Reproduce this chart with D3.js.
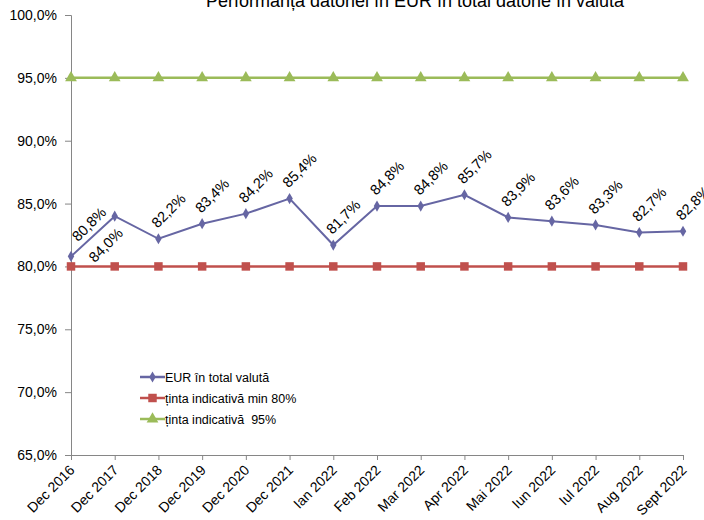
<!DOCTYPE html>
<html>
<head>
<meta charset="utf-8">
<script src="https://cdn.jsdelivr.net/npm/d3@7"></script>
<style>
  html, body { margin: 0; padding: 0; background: #fff; }
  svg { display: block; font-family: "Liberation Sans", Arial, sans-serif; }
</style>
</head>
<body>
<svg id="chart" width="704" height="520"></svg>
<script>
const categories = ["Dec 2016","Dec 2017","Dec 2018","Dec 2019","Dec 2020","Dec 2021","Ian 2022","Feb 2022","Mar 2022","Apr 2022","Mai 2022","Iun 2022","Iul 2022","Aug 2022","Sept 2022"];
const eurShare = [80.8, 84.0, 82.2, 83.4, 84.2, 85.4, 81.7, 84.8, 84.8, 85.7, 83.9, 83.6, 83.3, 82.7, 82.8];
const targetMin = [80,80,80,80,80,80,80,80,80,80,80,80,80,80,80];
const target95 = [95,95,95,95,95,95,95,95,95,95,95,95,95,95,95];
const yTicks = [65, 70, 75, 80, 85, 90, 95, 100];
const seriesNames = ["EUR în total valută", "ținta indicativă min 80%", "ținta indicativă  95%"];
const title = "Performanța datoriei în EUR în total datorie în valută";

const svg = d3.select("#chart");
const mLeft = 71, mRight = 683, mTop = 15, mBottom = 455;

const x = d3.scalePoint().domain(categories).range([mLeft, mRight]);
const y = d3.scaleLinear().domain([65, 100]).range([mBottom, mTop]);

const fmt = v => d3.format(".1f")(v).replace(".", ",") + "%";

// title (cropped at top, as in the reference)
svg.append("text").attr("x", 415).attr("y", 7).attr("text-anchor", "middle")
  .attr("font-size", 18).attr("fill", "#000").text(title);

// axes
const yAxis = d3.axisLeft(y).tickValues(yTicks).tickSize(6).tickFormat(fmt);
const gy = svg.append("g").attr("transform", `translate(${mLeft},0)`).call(yAxis);
gy.select(".domain").attr("stroke", "#868686");
gy.selectAll(".tick line").attr("stroke", "#868686");
gy.selectAll(".tick text").attr("font-size", 14).attr("fill", "#000")
  .attr("font-family", "Liberation Sans, Arial, sans-serif").attr("x", -14);

const xAxis = d3.axisBottom(x).tickSize(5).tickSizeOuter(0);
const gx = svg.append("g").attr("transform", `translate(0,${mBottom})`).call(xAxis);
gx.select(".domain").attr("stroke", "#868686");
gx.selectAll(".tick line").attr("stroke", "#868686");
gx.selectAll(".tick text")
  .attr("font-size", 14).attr("fill", "#000")
  .attr("font-family", "Liberation Sans, Arial, sans-serif")
  .attr("text-anchor", "end")
  .attr("dy", null).attr("y", null)
  .attr("transform", "translate(4,16) rotate(-45)");

const colors = ["#6666A3", "#C0504D", "#9BBB59"];

function drawLine(vals, color, width) {
  svg.append("path")
    .datum(vals)
    .attr("fill", "none").attr("stroke", color).attr("stroke-width", width)
    .attr("d", d3.line().x((d, i) => x(categories[i])).y(d => y(d)));
}

drawLine(target95, colors[2], 2.5);
drawLine(targetMin, colors[1], 2.5);
drawLine(eurShare, colors[0], 2);

const sym = {
  diamond: d3.symbol().type(d3.symbolDiamond).size(36),
  square: d3.symbol().type(d3.symbolSquare).size(72),
  triangle: d3.symbol().type(d3.symbolTriangle).size(60)
};

function markers(vals, color, s) {
  svg.append("g").selectAll("path").data(vals).join("path")
    .attr("transform", (d, i) => `translate(${x(categories[i])},${y(d)})`)
    .attr("d", s).attr("fill", color);
}
markers(target95, colors[2], sym.triangle);
markers(targetMin, colors[1], sym.square);
markers(eurShare, colors[0], sym.diamond);

// data labels
svg.append("g").selectAll("text").data(eurShare).join("text")
  .attr("transform", (d, i) => {
    const px = x(categories[i]), py = y(d);
    if (i === 1) return `translate(${px - 20},${py + 47}) rotate(-45)`;
    if (i === 0) return `translate(${px + 7},${py - 14}) rotate(-45)`;
    return `translate(${px - 1},${py - 10}) rotate(-45)`;
  })
  .attr("font-size", 14.5).attr("fill", "#000").text(fmt);

// legend
const legend = svg.append("g");
const legendSyms = [sym.diamond, sym.square, sym.triangle];
seriesNames.forEach((name, i) => {
  const ly = 377 + i * 21;
  legend.append("line").attr("x1", 140).attr("x2", 165).attr("y1", ly).attr("y2", ly)
    .attr("stroke", colors[i]).attr("stroke-width", 2.5);
  legend.append("path").attr("transform", `translate(152.5,${ly})`).attr("d", legendSyms[i]).attr("fill", colors[i]);
  legend.append("text").attr("x", 165).attr("y", ly + 4.5).attr("font-size", 12.5)
    .style("white-space", "pre").attr("fill", "#000").text(name);
});
</script>
</body>
</html>
